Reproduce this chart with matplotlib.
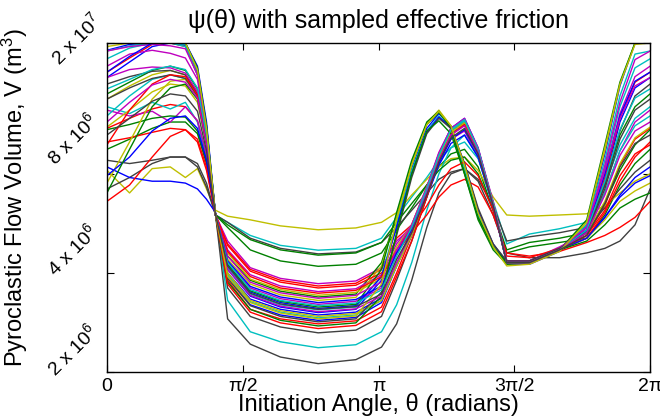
import numpy as np
import matplotlib
matplotlib.use("Agg")
import matplotlib.pyplot as plt
from matplotlib.transforms import offset_copy

plt.rcParams["font.family"] = ["Liberation Sans", "DejaVu Sans"]
plt.rcParams["mathtext.fontset"] = "custom"
plt.rcParams["mathtext.rm"] = "Liberation Sans"
plt.rcParams["mathtext.it"] = "Liberation Sans:italic"

# initiation angle grid (degrees)
theta_deg = [0, 15, 30, 42, 52, 60, 66, 72, 80, 95, 115, 140, 165, 182, 192,
             202, 212, 220, 228, 237, 246, 256, 265, 280, 300, 318, 330, 340, 350, 360]

# flow volume per sampled friction run, units of 1e6 m^3
run01 = [19, 19.8, 20, 20, 19.8, 16.5, 11.2, 6.0, 4.1, 3.4, 3.15, 3.03, 3.1, 3.8, 5.6, 8.3, 11.0, 12.2, 11.2, 8.4, 6.1, 4.8, 4.25, 4.3, 4.7, 5.6, 9.2, 14.8, 20, 20]
run02 = [9.5, 10.2, 11.0, 11.5, 11.5, 10.6, 8.6, 6.0, 5.5, 4.7, 4.35, 4.19, 4.25, 4.6, 5.4, 6.3, 7.4, 8.4, 9.2, 9.5, 8.4, 6.2, 4.6, 4.8, 4.95, 5.1, 6.0, 7.4, 8.6, 9.5]
run03 = [11.0, 11.8, 12.6, 13.0, 12.8, 11.6, 9.0, 6.0, 4.9, 4.1, 3.8, 3.65, 3.72, 4.1, 5.1, 5.6, 7.2, 9.1, 10.8, 11.5, 9.2, 6.4, 4.35, 4.35, 4.75, 5.2, 6.4, 8.5, 10.2, 11.0]
run04 = [12.8, 12.2, 13.2, 12.6, 13.2, 11.5, 8.8, 6.0, 5.7, 5.2, 4.85, 4.69, 4.75, 5.1, 5.9, 6.8, 7.8, 8.8, 9.6, 10.0, 8.9, 6.6, 4.9, 5.25, 5.45, 5.7, 7.4, 9.8, 11.8, 12.8]
run05 = [12.5, 12.0, 12.4, 11.5, 12.8, 11.6, 9.2, 6.0, 5.0, 4.15, 3.85, 3.71, 3.78, 4.15, 5.0, 5.5, 7.0, 8.8, 10.2, 10.8, 9.0, 6.4, 4.35, 4.35, 4.8, 5.3, 7.0, 9.4, 11.5, 12.5]
run06 = [8.2, 7.0, 8.3, 8.4, 7.8, 8.3, 7.2, 6.2, 5.95, 5.8, 5.56, 5.41, 5.48, 5.7, 6.1, 6.9, 7.7, 8.4, 8.9, 9.0, 8.2, 6.8, 6.0, 5.95, 6.0, 6.05, 6.4, 7.0, 7.6, 8.0]
run07 = [8.8, 8.6, 8.8, 9.0, 9.0, 8.6, 7.5, 6.0, 5.7, 5.1, 4.75, 4.57, 4.63, 4.95, 5.5, 6.2, 7.0, 7.7, 8.1, 8.3, 7.7, 6.4, 5.0, 5.15, 5.3, 5.5, 6.3, 7.2, 8.1, 8.8]
run08 = [15.7, 17.5, 19.5, 20, 19.6, 16.2, 10.8, 6.0, 3.9, 3.2, 2.98, 2.87, 2.93, 3.25, 4.2, 5.4, 7.2, 9.2, 11.0, 11.8, 9.6, 6.5, 4.25, 4.25, 4.65, 5.4, 7.6, 11.5, 14.6, 15.7]
run09 = [14.0, 15.2, 16.5, 17.0, 16.5, 14.5, 10.5, 6.0, 4.5, 3.8, 3.52, 3.38, 3.45, 4.3, 6.0, 8.6, 11.3, 12.3, 11.0, 8.2, 5.9, 4.8, 4.3, 4.35, 4.75, 5.4, 7.4, 10.5, 12.8, 14.0]
run10 = [16.3, 18.0, 19.8, 20, 19.5, 16.0, 10.6, 6.0, 3.8, 3.1, 2.9, 2.80, 2.86, 3.15, 4.0, 5.2, 7.0, 9.0, 10.8, 11.6, 9.5, 6.5, 4.3, 4.3, 4.7, 5.3, 7.8, 11.8, 15.2, 16.3]
run11 = [17.9, 19.3, 20, 20, 19.5, 16.0, 10.5, 6.0, 3.3, 2.65, 2.47, 2.37, 2.42, 2.65, 3.2, 4.3, 6.2, 8.0, 9.6, 10.5, 9.0, 6.3, 4.3, 4.3, 4.7, 5.5, 8.3, 12.8, 16.8, 17.9]
run12 = [17.0, 18.5, 19.0, 18.6, 18.0, 15.5, 10.6, 6.0, 4.7, 3.95, 3.65, 3.51, 3.58, 3.95, 4.9, 5.6, 7.3, 9.2, 11.0, 11.7, 9.5, 6.5, 4.35, 4.35, 4.75, 5.4, 8.0, 12.2, 15.8, 17.0]
run13 = [13.5, 14.8, 16.0, 16.5, 16.0, 14.2, 10.3, 6.0, 4.4, 3.7, 3.43, 3.30, 3.37, 4.2, 6.0, 8.6, 11.4, 12.5, 11.2, 8.4, 6.0, 4.8, 4.25, 4.3, 4.7, 5.7, 9.4, 15.0, 20, 20]
run14 = [7.2, 7.8, 8.6, 9.0, 9.0, 8.4, 7.3, 6.0, 2.9, 2.43, 2.22, 2.12, 2.18, 2.38, 2.8, 3.8, 5.5, 7.0, 8.0, 8.3, 7.6, 6.0, 4.6, 4.45, 4.45, 4.6, 4.75, 5.0, 5.6, 7.2]
run15 = [8.4, 7.8, 7.6, 7.6, 7.5, 7.2, 6.7, 6.1, 4.0, 3.33, 3.1, 2.98, 3.04, 3.35, 4.2, 5.2, 6.8, 8.5, 9.9, 10.5, 9.0, 6.4, 4.3, 4.3, 4.7, 5.1, 5.9, 6.9, 7.8, 8.4]
run16 = [10.9, 11.3, 11.8, 12.0, 11.9, 10.8, 8.7, 6.0, 5.6, 5.05, 4.7, 4.53, 4.6, 4.95, 5.7, 6.5, 7.4, 8.2, 8.8, 9.0, 8.0, 6.2, 4.7, 4.95, 5.1, 5.3, 6.5, 8.2, 9.8, 10.9]
run17 = [6.6, 7.4, 9.0, 10.4, 10.9, 10.0, 8.2, 6.0, 4.85, 4.05, 3.75, 3.60, 3.67, 4.0, 4.6, 5.3, 6.0, 6.8, 7.4, 7.7, 7.3, 6.0, 4.6, 4.5, 4.65, 4.95, 5.2, 5.5, 5.9, 6.6]
run18 = [18.9, 19.6, 20, 20, 19.8, 16.5, 11.0, 6.0, 4.15, 3.45, 3.2, 3.09, 3.15, 3.9, 5.7, 8.2, 10.8, 12.0, 11.0, 8.3, 6.0, 4.8, 4.3, 4.3, 4.7, 5.6, 8.8, 13.8, 18.5, 18.9]
run19 = [18.9, 19.5, 19.8, 19.6, 19.2, 16.0, 10.8, 6.0, 4.3, 3.6, 3.34, 3.21, 3.28, 3.6, 4.6, 5.5, 7.2, 9.1, 10.9, 11.7, 9.5, 6.5, 4.3, 4.3, 4.7, 5.5, 8.5, 13.2, 17.8, 18.9]
run20 = [11.1, 12.5, 14.2, 15.0, 14.8, 13.2, 9.8, 6.0, 4.6, 3.83, 3.56, 3.42, 3.49, 3.85, 4.8, 5.6, 7.3, 9.2, 10.9, 11.5, 9.4, 6.5, 4.3, 4.3, 4.75, 5.3, 6.6, 8.6, 10.3, 11.1]
run21 = [15.0, 15.8, 16.4, 16.5, 16.0, 14.0, 10.2, 6.0, 3.6, 2.95, 2.74, 2.63, 2.68, 2.95, 3.8, 5.0, 6.8, 8.8, 10.6, 11.4, 9.4, 6.4, 4.3, 4.3, 4.7, 5.3, 7.4, 10.8, 13.8, 15.0]
run22 = [16.3, 18.2, 20, 20, 20, 17.0, 11.5, 6.0, 4.2, 3.5, 3.25, 3.12, 3.18, 3.9, 5.5, 8.0, 10.7, 11.9, 11.1, 8.6, 6.2, 4.9, 4.3, 4.3, 4.7, 5.4, 8.0, 12.0, 15.3, 16.3]
run23 = [20, 20, 20, 20, 20, 16.8, 11.2, 6.0, 4.25, 3.53, 3.28, 3.15, 3.21, 4.1, 6.1, 8.8, 11.5, 12.4, 11.0, 8.0, 5.8, 4.7, 4.25, 4.3, 4.7, 5.8, 9.8, 15.2, 20, 20]
run24 = [10.0, 10.3, 10.7, 11.0, 10.9, 10.2, 8.4, 6.0, 4.65, 3.9, 3.6, 3.47, 3.54, 3.9, 4.7, 5.5, 6.4, 7.4, 8.3, 8.7, 7.9, 6.2, 4.5, 4.45, 4.75, 5.1, 6.1, 7.6, 9.0, 10.0]
run25 = [12.0, 13.8, 15.5, 16.0, 15.6, 13.8, 10.0, 6.0, 3.95, 3.27, 3.04, 2.92, 2.98, 3.3, 4.2, 5.3, 7.0, 9.0, 10.8, 11.6, 9.5, 6.5, 4.3, 4.3, 4.7, 5.3, 7.0, 9.4, 11.2, 12.0]
run26 = [15.7, 16.6, 16.9, 16.8, 16.2, 14.2, 10.3, 6.0, 4.5, 3.75, 3.48, 3.35, 3.42, 3.75, 4.7, 5.6, 7.3, 9.3, 11.0, 11.8, 9.6, 6.6, 4.35, 4.35, 4.75, 5.5, 8.2, 11.8, 14.8, 15.7]
run27 = [7.5, 10.0, 13.5, 15.3, 15.5, 13.8, 10.0, 6.0, 4.0, 3.3, 3.07, 2.95, 3.01, 3.3, 4.2, 5.2, 6.9, 8.9, 10.7, 11.4, 9.4, 6.5, 4.3, 4.3, 4.7, 5.1, 5.8, 6.6, 7.1, 7.5]
run28 = [13.5, 14.6, 15.6, 16.0, 15.6, 13.8, 10.1, 6.0, 3.85, 3.18, 2.95, 2.84, 2.9, 3.5, 5.2, 7.8, 10.6, 11.8, 11.0, 8.6, 6.3, 4.9, 4.35, 4.35, 4.75, 5.3, 7.2, 10.2, 12.5, 13.5]
run29 = [7.9, 9.0, 10.8, 11.8, 12.0, 11.0, 8.8, 6.0, 4.35, 3.64, 3.38, 3.25, 3.32, 3.65, 4.6, 5.4, 6.9, 8.6, 10.2, 10.9, 9.2, 6.4, 4.3, 4.3, 4.7, 5.1, 5.9, 6.8, 7.5, 7.9]
run30 = [7.0, 9.5, 12.8, 14.6, 15.0, 13.5, 9.8, 6.0, 3.75, 3.1, 2.87, 2.76, 2.82, 3.4, 5.3, 8.0, 10.8, 11.6, 10.6, 8.0, 5.9, 4.8, 4.3, 4.3, 4.7, 5.0, 5.6, 6.3, 6.7, 7.0]
run31 = [9.8, 12.5, 15.0, 16.0, 15.8, 13.9, 10.0, 6.0, 3.7, 3.04, 2.82, 2.71, 2.77, 3.05, 3.9, 5.0, 6.8, 8.8, 10.5, 11.3, 9.3, 6.4, 4.3, 4.3, 4.7, 5.2, 6.2, 7.9, 9.2, 9.8]
run32 = [14.5, 15.5, 16.6, 17.0, 16.6, 14.6, 10.5, 6.0, 4.3, 3.56, 3.3, 3.18, 3.24, 3.55, 4.5, 5.5, 7.2, 9.1, 10.9, 11.7, 9.5, 6.5, 4.3, 4.3, 4.7, 5.4, 7.6, 10.9, 13.6, 14.5]
run33 = [11.5, 13.2, 14.9, 15.5, 15.2, 13.6, 9.9, 6.0, 4.1, 3.42, 3.17, 3.05, 3.11, 3.4, 4.3, 5.3, 7.0, 8.8, 10.5, 11.2, 9.3, 6.4, 4.3, 4.3, 4.7, 5.3, 6.9, 9.1, 10.8, 11.5]
run34 = [19.5, 20, 20, 20, 20, 16.6, 11.0, 6.0, 3.9, 3.25, 3.02, 2.90, 2.96, 3.7, 5.8, 8.5, 11.3, 12.4, 11.2, 8.5, 6.1, 4.8, 4.2, 4.25, 4.65, 5.7, 9.6, 15.0, 19.8, 20]
run35 = [10.5, 11.8, 13.3, 14.0, 13.8, 12.4, 9.4, 6.0, 4.2, 3.47, 3.22, 3.10, 3.16, 3.45, 4.4, 5.3, 6.9, 8.7, 10.3, 11.0, 9.2, 6.4, 4.3, 4.3, 4.7, 5.2, 6.5, 8.4, 9.9, 10.5]

runs = [run01, run02, run03, run04, run05, run06, run07, run08, run09, run10,
        run11, run12, run13, run14, run15, run16, run17, run18, run19, run20,
        run21, run22, run23, run24, run25, run26, run27, run28, run29, run30,
        run31, run32, run33, run34, run35]

# old MATLAB line colour order: b g r c m y k
color_order = ["#0000FF", "#008000", "#FF0000", "#00BFBF", "#BF00BF", "#BFBF00", "#404040"]

ytick_vals = [2e6, 4e6, 8e6, 2e7]
ytick_text = ["2 x 10$^6$", "4 x 10$^6$", "8 x 10$^6$", "2 x 10$^7$"]
xtick_text = ["0", "\u03c0/2", "\u03c0", "3\u03c0/2", "2\u03c0"]


def main():
    theta = np.deg2rad(theta_deg)

    fig = plt.figure(figsize=(6.6, 4.17), dpi=100)
    ax = fig.add_axes([0.162, 0.108, 0.823, 0.789])

    for i, vol in enumerate(runs):
        ax.plot(theta, np.array(vol) * 1e6, color=color_order[i % 7], lw=1.0)

    ax.set_yscale("log")
    ax.set_ylim(2e6, 2e7)
    ax.set_xlim(0, 2 * np.pi)

    ax.set_xticks(np.arange(5) * np.pi / 2)
    ax.set_xticklabels(xtick_text, fontsize=14)
    ax.set_yticks(ytick_vals)
    ax.yaxis.set_minor_locator(matplotlib.ticker.NullLocator())
    ax.set_yticklabels([])
    ax.tick_params(direction="in", top=True, right=True, length=5, width=0.8, pad=4)

    # rotated y tick labels (MATLAB-like), hand-placed offsets in pixels
    label_dx = [-52, -52, -52, -48]
    label_dy = [-5, -4, 8, -23]
    for v, s, dx, dy in zip(ytick_vals, ytick_text, label_dx, label_dy):
        trans = offset_copy(ax.get_yaxis_transform(), fig=fig, x=dx, y=dy, units="dots")
        ax.text(0, v, s, transform=trans, rotation=45, rotation_mode="anchor",
                ha="left", va="baseline", fontsize=14)

    for sp in ax.spines.values():
        sp.set_linewidth(1.0)
        sp.set_color("black")

    ax.set_title("\u03c8(\u03b8) with sampled effective friction", fontsize=18, pad=11)
    ax.set_xlabel("Initiation Angle, \u03b8 (radians)", fontsize=17, labelpad=-1)
    ax.set_ylabel("Pyroclastic Flow Volume, V (m$^3$)", fontsize=17)
    ax.yaxis.set_label_coords(-0.142, 0.53)

    fig.savefig("out.png", dpi=100)


if __name__ == "__main__":
    main()
